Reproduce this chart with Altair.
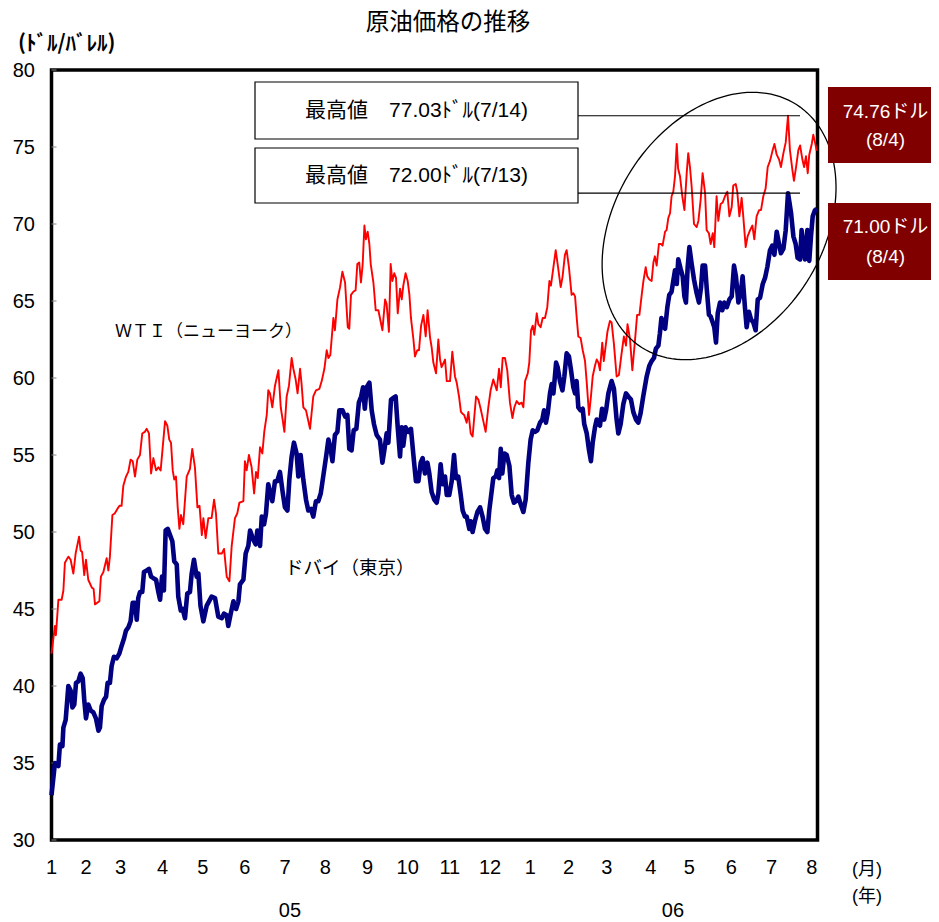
import altair as alt
import pandas as pd
import numpy as np

# ---- data (trading-day index from 2005-01-03, price in $/bbl) ----
wti_day = [0, 1.8, 2.3, 3.6, 5.3, 6.2, 7.0, 8.8, 10.0, 11.4, 12.6, 14.4, 15.2, 16.0, 17.1, 18.0, 19.2, 21.0, 22.0, 22.7,
           25.0, 25.8, 27.1, 28.8, 29.7, 30.5, 31.8, 33.0, 34.4, 35.5, 36.6, 37.5, 38.9, 40.1, 41.3, 42.4, 43.6, 44.8, 46.2, 47.4,
           48.7, 49.7, 50.9, 52.0, 53.2, 54.6, 55.8, 57.0, 58.0, 59.3, 60.5, 61.5, 62.4, 63.3, 64.1, 65.0, 65.9, 66.8, 67.6, 68.8,
           70.6, 72.3, 73.5, 74.9, 76.2, 77.3, 78.5, 79.3, 80.5, 81.9, 83.6, 84.9, 85.9, 87.1, 88.9, 90.1, 91.5, 92.9, 94.1, 95.8,
           97.0, 98.1, 100.2, 101.0, 101.9, 103.1, 104.5, 105.8, 106.8, 107.7, 108.9, 110.1, 111.1, 112.4, 113.2, 114.1, 115.3, 116.7, 118.5, 119.7,
           120.7, 121.6, 122.8, 124.0, 125.4, 126.3, 127.5, 128.5, 129.8, 130.6, 131.5, 132.9, 133.6, 135.0, 136.7, 138.1, 139.9, 141.1, 142.5, 143.7,
           144.6, 145.6, 147.2, 148.0, 149.3, 150.7, 151.9, 153.3, 154.7, 155.5, 156.4, 157.6, 158.8, 159.7, 160.7, 161.6, 162.5, 163.4, 164.2, 165.1,
           166.0, 166.7, 168.1, 169.3, 170.7, 171.5, 172.8, 174.2, 175.0, 176.2, 177.1, 178.0, 179.0, 179.9, 180.8, 182.0, 182.9, 183.7, 184.9, 186.0,
           186.9, 187.7, 189.0, 189.8, 191.0, 191.9, 193.0, 194.2, 195.4, 196.4, 197.7, 198.5, 199.4, 200.8, 202.0, 202.9, 203.7, 205.5, 206.4, 208.1,
           209.3, 210.7, 211.6, 212.8, 213.8, 214.5, 215.5, 216.8, 217.7, 218.9, 219.9, 221.7, 222.9, 224.1, 225.5, 226.7, 228.1, 229.3, 230.7, 232.5,
           233.7, 234.6, 235.6, 236.8, 238.0, 239.4, 240.7, 241.7, 242.9, 244.2, 245.5, 246.4, 247.3, 248.7, 249.5, 250.4, 251.3, 252.1, 253.4, 254.2,
           255.4, 256.5, 257.7, 258.9, 260.0, 260.8, 262.1, 263.3, 264.3, 265.9, 266.9, 268.1, 269.0, 270.2, 271.6, 272.5, 273.4, 274.2, 275.1, 276.3,
           277.4, 278.6, 279.5, 280.7, 281.7, 282.6, 283.8, 284.7, 285.6, 286.4, 287.6, 288.4, 290.3, 291.6, 292.5, 293.7, 295.1, 296.3, 297.7, 298.9,
           300.0, 300.8, 302.1, 303.3, 304.6, 305.8, 307.0, 308.3, 309.1, 310.3, 311.1, 312.2, 313.4, 314.3, 315.1, 316.0, 317.2, 318.3, 319.1, 320.4,
           321.2, 322.1, 323.0, 323.8, 324.7, 325.6, 326.5, 327.2, 328.2, 329.4, 330.5, 331.7, 332.5, 333.4, 334.3, 335.5, 336.9, 337.8, 339.0, 340.0,
           341.3, 342.1, 343.3, 344.2, 345.3, 346.1, 347.3, 348.2, 349.4, 350.5, 351.7, 352.9, 354.0, 355.2, 356.0, 357.3, 358.1, 359.2, 360.4, 361.3,
           362.5, 363.5, 364.8, 366.0, 367.0, 368.2, 369.5, 370.5, 371.7, 372.9, 374.0, 375.2, 376.4, 377.5, 378.7, 379.9, 380.9, 382.2, 383.4, 384.6,
           385.6, 386.9, 387.7, 388.8, 390.0, 390.9, 392.1, 393.0, 394.0, 394.9, 395.7, 397.0, 397.8, 398.7, 399.6]
wti_price = [42.1, 43.9, 43.3, 45.6, 45.6, 46.2, 48.0, 48.4, 48.2, 47.3, 48.6, 49.7, 48.8, 48.7, 47.2, 48.2, 46.9, 46.4, 46.3, 45.3,
             45.5, 47.1, 47.4, 48.3, 47.5, 48.4, 51.1, 51.2, 51.5, 51.7, 51.7, 53.0, 53.6, 53.9, 54.7, 54.6, 53.6, 54.7, 55.0, 56.4,
             56.5, 56.7, 56.4, 53.8, 54.8, 54.0, 54.2, 54.0, 55.4, 57.2, 56.9, 56.0, 55.8, 54.0, 53.4, 53.6, 51.6, 50.2, 51.1, 50.5,
             53.6, 54.1, 55.4, 54.2, 51.6, 51.7, 49.8, 50.9, 49.6, 50.9, 50.9, 52.1, 51.2, 48.6, 48.6, 48.9, 47.1, 46.8, 49.1, 50.9,
             51.2, 51.9, 52.0, 54.6, 54.0, 55.0, 54.2, 52.5, 53.9, 53.5, 55.5, 55.1, 56.5, 57.6, 59.2, 59.0, 58.1, 59.5, 60.5, 58.1,
             57.3, 56.5, 58.8, 59.5, 61.3, 60.6, 59.9, 59.0, 60.6, 59.6, 58.1, 57.9, 57.5, 56.7, 58.8, 59.2, 59.3, 59.8, 60.6, 61.8,
             61.3, 61.5, 63.9, 63.1, 65.1, 65.9, 66.9, 66.2, 63.3, 63.2, 65.4, 65.6, 65.7, 67.4, 67.5, 66.2, 67.4, 69.9, 69.0, 69.5,
             68.7, 67.4, 66.2, 64.4, 64.4, 63.9, 63.1, 65.1, 64.8, 63.0, 67.4, 66.3, 66.8, 66.5, 64.2, 65.8, 65.1, 66.0, 66.8, 66.3,
             65.4, 63.9, 62.5, 61.4, 61.8, 61.8, 63.4, 64.1, 62.7, 64.4, 62.6, 62.0, 61.0, 60.3, 62.5, 61.2, 60.7, 61.2, 59.8, 59.8,
             61.7, 60.1, 59.7, 58.8, 57.8, 57.7, 57.6, 57.1, 57.8, 56.4, 56.2, 58.8, 58.6, 58.0, 57.2, 56.5, 58.1, 59.2, 59.9, 59.2,
             60.6, 59.4, 61.3, 61.3, 60.5, 58.4, 57.4, 58.1, 58.5, 58.3, 58.4, 58.1, 59.8, 60.3, 61.0, 63.1, 63.4, 62.8, 64.2, 63.5,
             63.3, 63.9, 63.9, 64.6, 66.3, 66.0, 67.2, 68.3, 67.4, 65.9, 66.6, 68.0, 68.3, 67.2, 65.4, 65.5, 65.3, 64.0, 62.7, 62.6,
             61.8, 61.1, 59.7, 57.6, 58.8, 60.1, 60.8, 61.2, 61.0, 60.5, 62.3, 61.1, 63.0, 63.7, 63.6, 62.2, 60.1, 60.2, 61.6, 62.7,
             62.1, 63.5, 62.5, 60.5, 62.3, 64.1, 64.1, 65.5, 66.3, 67.2, 66.6, 66.4, 66.3, 67.5, 67.9, 67.3, 68.7, 68.7, 68.6, 69.5,
             69.6, 70.4, 70.7, 71.8, 72.1, 73.1, 75.2, 73.6, 73.1, 71.8, 70.9, 73.3, 74.6, 73.7, 72.4, 70.0, 69.8, 70.2, 71.6, 73.3,
             72.0, 69.6, 69.4, 68.7, 69.4, 68.5, 71.8, 70.2, 71.3, 71.4, 71.8, 72.1, 70.5, 71.1, 72.5, 72.6, 72.1, 70.5, 71.7, 70.4,
             68.5, 69.2, 69.6, 69.9, 69.0, 70.5, 70.9, 70.9, 71.8, 72.3, 73.7, 74.1, 74.7, 75.2, 74.5, 74.2, 73.7, 74.6, 75.3, 77.03,
             74.8, 73.5, 72.8, 73.7, 74.8, 75.1, 74.2, 73.7, 74.4, 73.3, 74.5, 75.2, 75.8, 75.3, 74.76]

dubai_day = [0, 1.8, 3.6, 4.4, 5.7, 6.2, 7.4, 8.8, 10.0, 10.9, 11.9, 12.8, 14.0, 15.2, 16.3, 17.1, 18.0, 19.2, 20.5, 21.8,
             23.2, 24.5, 25.3, 26.2, 27.4, 28.5, 29.3, 30.5, 31.4, 32.6, 34.0, 35.4, 36.6, 37.9, 38.9, 40.1, 41.3, 42.4, 43.6, 44.5,
             45.3, 46.2, 47.4, 48.3, 49.7, 50.9, 52.0, 53.2, 54.6, 55.8, 56.7, 57.7, 58.7, 59.6, 60.7, 61.9, 63.1, 64.1, 65.4, 66.2,
             67.5, 68.5, 69.7, 70.9, 72.3, 73.2, 74.4, 75.8, 76.7, 77.8, 79.3, 81.0, 83.6, 85.4, 87.1, 88.9, 90.1, 91.5, 92.3, 93.6,
             95.0, 96.4, 97.6, 98.4, 100.2, 101.4, 102.8, 103.7, 105.4, 106.6, 107.5, 108.9, 109.8, 111.0, 112.0, 113.2, 114.1, 115.3, 116.7, 117.9,
             119.3, 120.7, 121.9, 123.2, 124.2, 125.4, 126.6, 128.0, 128.9, 130.1, 131.5, 132.9, 134.1, 135.5, 136.7, 138.1, 139.3, 140.6, 142.0, 143.4,
             144.6, 145.6, 146.7, 148.0, 149.3, 150.3, 152.0, 153.3, 154.5, 155.5, 156.7, 157.8, 159.2, 160.5, 161.7, 162.7, 163.6, 164.6, 166.0, 167.2,
             168.4, 169.8, 171.5, 172.8, 173.8, 175.0, 175.9, 177.3, 178.5, 179.7, 180.8, 182.0, 182.9, 183.7, 184.9, 186.3, 187.7, 188.9, 190.3, 191.6,
             192.8, 193.8, 195.0, 196.3, 197.3, 198.5, 199.9, 201.1, 202.0, 203.2, 204.3, 205.5, 206.4, 207.7, 209.0, 210.2, 211.2, 212.4, 213.7, 214.7,
             215.9, 216.8, 218.2, 218.9, 219.9, 221.1, 222.4, 223.8, 225.1, 226.4, 227.6, 228.6, 229.9, 230.7, 232.0, 232.8, 233.7, 234.6, 235.4, 236.5,
             237.7, 239.1, 240.3, 241.5, 242.6, 243.8, 245.0, 246.4, 247.6, 249.0, 250.2, 251.3, 252.5, 253.7, 255.1, 256.3, 257.2, 258.2, 259.1, 260.3,
             261.2, 262.1, 263.5, 264.3, 265.5, 266.8, 267.8, 269.0, 270.2, 271.3, 272.5, 273.4, 274.2, 275.1, 276.3, 277.4, 278.2, 279.5, 280.7, 281.7,
             282.6, 283.8, 284.7, 285.6, 286.4, 287.5, 288.6, 289.6, 290.8, 292.5, 293.7, 295.1, 296.0, 297.2, 298.6, 300.0, 301.2, 302.6, 303.8, 305.2,
             306.4, 307.6, 309.0, 310.8, 312.2, 313.4, 314.6, 315.6, 316.9, 317.7, 318.5, 319.3, 320.4, 321.6, 322.6, 323.8, 324.7, 325.6, 326.5, 327.3,
             328.5, 329.6, 330.5, 331.3, 332.2, 333.1, 334.3, 335.5, 336.9, 338.1, 339.2, 340.0, 341.3, 342.1, 343.3, 344.2, 345.3, 346.1, 347.0, 347.9,
             349.1, 350.3, 351.3, 352.6, 354.0, 355.2, 356.4, 357.4, 358.7, 359.9, 360.9, 362.1, 363.0, 364.2, 365.3, 366.5, 367.7, 368.8, 370.0, 371.4,
             372.6, 373.8, 375.2, 376.4, 377.5, 378.7, 379.9, 380.9, 382.2, 383.4, 384.6, 386.2, 387.4, 388.6, 389.6, 390.9, 391.7, 392.6, 393.5, 394.7,
             395.7, 396.6, 397.5, 398.7, 399.6]
dubai_price = [32.9, 35.0, 34.8, 36.2, 36.1, 37.3, 37.8, 40.0, 39.7, 38.6, 38.8, 40.2, 40.3, 40.8, 40.5, 39.1, 37.9, 38.8, 38.4, 38.3,
               37.9, 37.1, 37.3, 38.7, 39.1, 39.3, 40.2, 40.2, 41.3, 41.9, 41.8, 42.1, 42.6, 43.1, 43.6, 43.8, 44.2, 45.4, 45.4, 44.3,
               45.7, 46.1, 46.1, 47.4, 47.5, 47.6, 47.1, 47.0, 46.9, 46.1, 45.6, 47.1, 46.2, 50.1, 50.2, 49.8, 49.4, 48.1, 47.9, 45.8,
               44.9, 45.0, 44.4, 46.0, 46.1, 47.3, 48.2, 47.1, 47.3, 45.2, 44.2, 45.2, 45.8, 45.7, 44.5, 44.4, 44.7, 44.6, 43.9, 44.7,
               45.5, 45.0, 45.5, 46.6, 46.9, 48.6, 49.1, 50.1, 49.5, 49.2, 50.1, 49.1, 51.0, 50.5, 51.2, 53.1, 52.6, 52.0, 53.3, 53.3,
               53.9, 52.6, 51.6, 51.4, 53.4, 54.9, 55.8, 55.1, 53.6, 55.0, 53.4, 52.1, 51.4, 51.5, 51.0, 52.0, 52.0, 52.5, 53.7, 54.9,
               56.0, 55.5, 54.6, 56.3, 56.5, 57.9, 57.9, 57.5, 57.6, 55.4, 55.3, 56.6, 56.7, 58.4, 58.8, 59.4, 58.0, 59.4, 59.7, 57.9,
               57.0, 56.3, 56.0, 54.5, 55.3, 56.4, 55.8, 58.6, 58.7, 58.8, 56.8, 54.9, 56.8, 55.6, 56.8, 56.5, 56.7, 55.1, 53.3, 53.3,
               54.5, 54.8, 53.8, 54.5, 53.8, 52.6, 52.1, 51.9, 52.5, 54.4, 53.1, 53.6, 52.4, 52.4, 53.3, 55.0, 53.5, 53.6, 52.4, 51.4,
               51.0, 51.0, 50.2, 50.7, 50.0, 50.7, 51.3, 51.6, 51.0, 50.2, 50.0, 51.4, 52.7, 53.5, 53.6, 54.0, 53.5, 55.4, 53.8, 55.1,
               55.0, 54.3, 52.4, 51.9, 52.0, 52.3, 51.8, 51.3, 52.1, 54.5, 56.0, 56.6, 56.5, 56.6, 57.1, 57.3, 57.9, 57.1, 57.7, 59.0,
               59.6, 59.0, 61.0, 60.7, 59.8, 59.2, 60.1, 61.6, 61.4, 60.5, 59.4, 59.0, 59.8, 58.1, 57.9, 58.0, 57.0, 56.4, 55.3, 54.6,
               55.8, 56.8, 57.3, 57.0, 56.9, 58.0, 57.3, 57.9, 59.0, 59.8, 59.3, 57.3, 56.4, 57.0, 58.3, 59.0, 58.8, 58.6, 57.8, 57.3,
               57.1, 57.7, 58.8, 60.1, 60.8, 61.1, 61.3, 61.9, 62.1, 62.9, 63.9, 63.4, 63.2, 64.6, 65.4, 65.6, 66.3, 67.0, 66.1, 67.7,
               67.1, 66.6, 65.3, 64.9, 67.2, 68.5, 67.4, 66.4, 65.5, 64.9, 65.9, 67.3, 67.3, 65.9, 64.1, 64.0, 63.6, 63.3, 62.3, 64.2,
               64.9, 64.4, 64.9, 64.6, 65.1, 65.3, 67.3, 66.6, 64.9, 65.5, 66.6, 64.6, 63.3, 64.3, 63.8, 63.6, 63.1, 65.1, 65.2, 66.1,
               66.5, 67.2, 68.3, 68.6, 68.0, 69.5, 68.7, 68.1, 68.4, 69.6, 72.0, 70.7, 69.2, 68.7, 67.8, 67.7, 69.6, 68.5, 67.7, 69.6,
               67.6, 69.2, 70.5, 70.9, 71.0]

month_tick_day = [0, 18, 36, 58, 79, 101, 122, 143, 165, 186, 208, 229, 250, 270, 290, 313, 333, 355, 376, 397]
month_labels = ["1", "2", "3", "4", "5", "6", "7", "8", "9", "10", "11", "12",
                "1", "2", "3", "4", "5", "6", "7", "8"]
year_labels = ["05", "06"]
year_label_day = [124.5, 324.5]
y_ticks = [30, 35, 40, 45, 50, 55, 60, 65, 70, 75, 80]

peak_values = [77.03, 72.00]
peak_texts = ["最高値　77.03ﾄﾞﾙ(7/14)", "最高値　72.00ﾄﾞﾙ(7/13)"]
latest_texts = [["74.76ドル", "(8/4)"], ["71.00ドル", "(8/4)"]]
ellipse_center = {"day": 348.6, "price": 69.87}

W, H = 766, 770
NUM = "Liberation Sans Narrow, Liberation Sans, Arial, sans-serif"
JP = "Noto Sans CJK JP, sans-serif"
MIX = "Liberation Sans, Noto Sans CJK JP, sans-serif"

xs = alt.X("day:Q", scale=alt.Scale(domain=[0, 400], nice=False, zero=False), axis=None)
yaxis = alt.Axis(values=y_ticks, ticks=False, domain=False, grid=False, labelPadding=17,
                 labelFontSize=20, labelFont=NUM, labelColor="black", title=None)
ys = alt.Y("price:Q", scale=alt.Scale(domain=[30, 80], nice=False, zero=False), axis=yaxis)

wti = pd.DataFrame({"day": wti_day, "price": wti_price})
dubai = pd.DataFrame({"day": dubai_day, "price": dubai_price})

red = alt.Chart(wti).mark_line(color="#FF0000", strokeWidth=1.9, strokeJoin="round").encode(x=xs, y=ys)
blue = alt.Chart(dubai).mark_line(color="#000080", strokeWidth=4.6, strokeJoin="round").encode(x=xs, y=ys)

ticks = alt.Chart(pd.DataFrame({"price": y_ticks})).mark_rule(color="#888888", strokeWidth=1).encode(
    y=ys, x=alt.value(0), x2=alt.value(5))

# ellipse as a custom symbol path (unit coordinates, major axis = 1)
a, b, ang = 144.0, 104.0, np.deg2rad(57.5)
t = np.linspace(0, 2 * np.pi, 145)
ux, uy = np.cos(ang), -np.sin(ang)
vx, vy = np.sin(ang), np.cos(ang)
px = np.cos(t) * ux + np.sin(t) * (b / a) * vx
py = np.cos(t) * uy + np.sin(t) * (b / a) * vy
path = "M" + " L".join(f"{x:.4f} {y:.4f}" for x, y in zip(px, py)) + " Z"
ellipse = alt.Chart(pd.DataFrame([ellipse_center])).mark_point(
    shape=path, size=(2 * a) ** 2, filled=False, stroke="black", strokeWidth=1.3, opacity=1
).encode(x=xs, y=ys)

leaders = alt.Chart(pd.DataFrame({"price": peak_values})).mark_rule(color="black", strokeWidth=1.2).encode(
    y=ys, x=alt.value(526.5), x2=alt.value(748.5))

one = pd.DataFrame({"k": [0]})


def box(x1, x2, y1, y2, fill, stroke=None):
    kw = dict(fill=fill)
    if stroke:
        kw.update(stroke=stroke, strokeWidth=1.2)
    return alt.Chart(one).mark_rect(**kw).encode(
        x=alt.value(x1), x2=alt.value(x2), y=alt.value(y1), y2=alt.value(y2))


def label(text, x, y, size, font=JP, color="black", align="center", weight="normal"):
    return alt.Chart(pd.DataFrame({"t": [text]})).mark_text(
        fontSize=size, font=font, color=color, align=align, baseline="middle", fontWeight=weight
    ).encode(x=alt.value(x), y=alt.value(y), text="t:N")


layers = [ticks, red, blue, ellipse, leaders,
          box(203.5, 526.5, 12, 69, "white", "black"),
          box(203.5, 526.5, 78, 133, "white", "black"),
          label(peak_texts[0], 365, 41, 21, MIX),
          label(peak_texts[1], 365, 106, 21, MIX),
          box(776.5, 880, 17, 93, "#800000"),
          box(776.5, 880, 133, 210, "#800000"),
          label(latest_texts[0][0], 834, 42, 19, MIX, "white"),
          label(latest_texts[0][1], 834, 70, 19, MIX, "white"),
          label(latest_texts[1][0], 834, 157, 19, MIX, "white"),
          label(latest_texts[1][1], 834, 187, 19, MIX, "white"),
          label("原油価格の推移", 396.5, -47, 23.5, JP),
          label("(ﾄﾞﾙ/ﾊﾞﾚﾙ)", -33.5, -26, 21, JP, align="left", weight="bold"),
          label("ＷＴＩ（ニューヨーク）", 63.5, 262, 17, JP, align="left"),
          label("ドバイ（東京）", 233.5, 498, 18.5, JP, align="left"),
          label("(月)", 815.5, 800, 18, MIX),
          label("(年)", 815.5, 827, 18, MIX),
          ]

xlab = alt.Chart(pd.DataFrame({"day": month_tick_day, "lab": month_labels})).mark_text(
    fontSize=20, font=NUM, color="black", baseline="middle").encode(
    x=xs, y=alt.value(H + 28), text="lab:N")
ylab = alt.Chart(pd.DataFrame({"day": year_label_day, "lab": year_labels})).mark_text(
    fontSize=20, font=NUM, color="black", baseline="middle").encode(
    x=xs, y=alt.value(H + 71), text="lab:N")
layers += [xlab, ylab]

chart = alt.layer(*layers).properties(
    width=W, height=H,
    background="white",
    autosize=alt.AutoSizeParams(type="none"),
    padding={"left": 43.5, "top": 62, "right": 113.5, "bottom": 86},
).configure_view(stroke="black", strokeWidth=3.5)

chart.save("out.html", embed_options={"renderer": "svg", "actions": False})
